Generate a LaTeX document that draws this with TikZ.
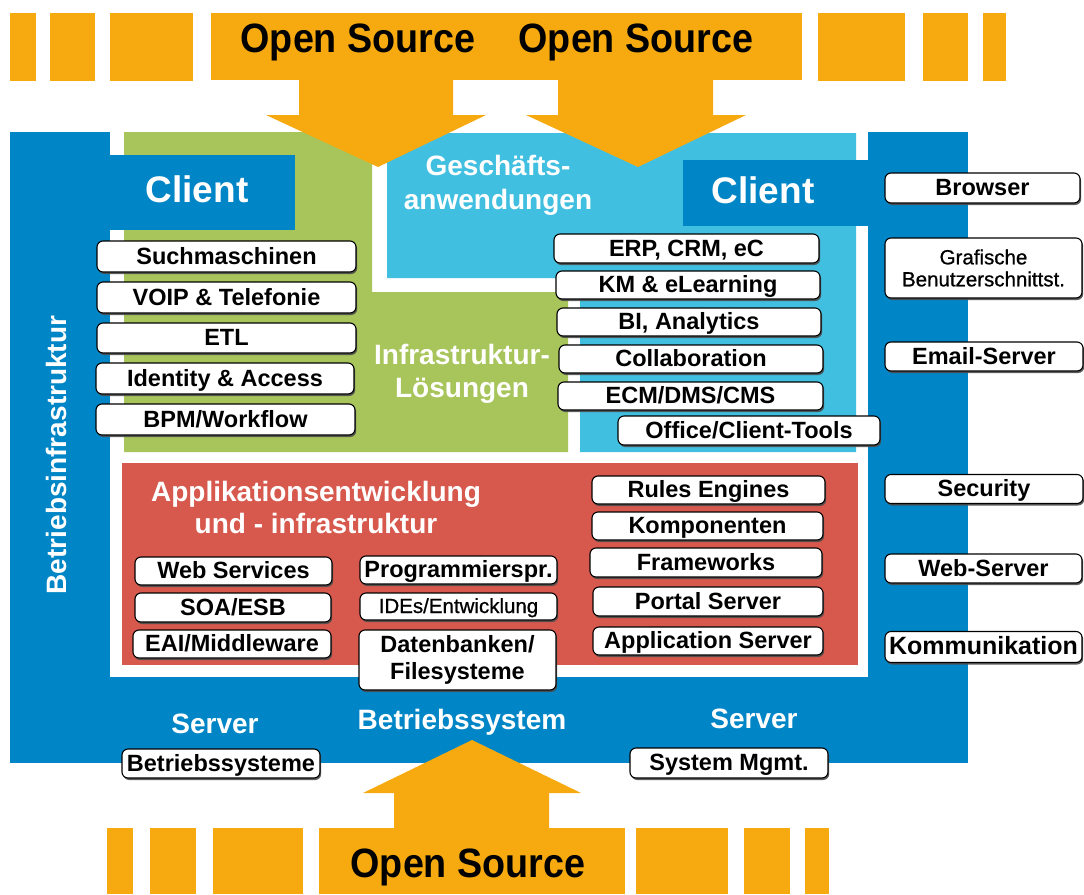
\documentclass[tikz,border=0pt]{standalone}
\usepackage{fontspec}
\setmainfont{Liberation Sans}
\newfontfamily\osfont[FakeStretch=0.92]{Liberation Sans}
\newfontfamily\medfont[FakeBold=0.8]{Liberation Sans}
\usetikzlibrary{shadows}
\definecolor{osorange}{RGB}{247,170,16}
\definecolor{osblue}{RGB}{0,134,198}
\definecolor{osgreen}{RGB}{167,197,90}
\definecolor{oscyan}{RGB}{65,191,224}
\definecolor{osred}{RGB}{215,88,76}
\tikzset{
  item/.style={draw=black, line width=1.1pt, fill=white, rounded corners=6pt,
    font=\fontsize{23.5}{26}\selectfont\bfseries, inner sep=0pt,
    text height=17pt, text depth=2pt,
    drop shadow={shadow xshift=1.2pt, shadow yshift=-2pt, fill=black!70, opacity=0.9}},
  itemtwo/.style={item, text height=, text depth=, align=center},
  sect/.style={text=white, font=\fontsize{28}{33}\selectfont\bfseries, align=center},
  clientlbl/.style={text=white, font=\fontsize{37}{40}\selectfont\bfseries, anchor=base},
  oslbl/.style={text=black, font=\osfont\fontsize{41}{44}\selectfont\bfseries, anchor=base},
  band/.style={fill=osorange, draw=none}
}
\begin{document}
\begin{tikzpicture}[x=1pt,y=-1pt]
\useasboundingbox[fill=white] (0,0) rectangle (1084,894);

% top band
\fill[band] (10,13) rectangle (36,81);
\fill[band] (50,13) rectangle (95,81);
\fill[band] (110,13) rectangle (193,81);
\fill[band] (818,13) rectangle (905,81);
\fill[band] (923,13) rectangle (968,81);
\fill[band] (983,13) rectangle (1006,81);

% outer blue and inner areas
\fill[osblue] (10,132) rectangle (968,763);
\fill[white] (110,132) rectangle (868,677);
\fill[osgreen] (124,132) -- (372,132) -- (372,292) -- (568,292) -- (568,452) -- (124,452) -- cycle;
\fill[oscyan] (387,133) -- (856,133) -- (856,452) -- (580,452) -- (580,278) -- (387,278) -- cycle;
\fill[osred] (122,463) rectangle (858,665);
\fill[osblue] (110,155) rectangle (295,230);
\fill[osblue] (683,160) rectangle (868,226);

% top main band with arrows
\fill[band] (211,13) rectangle (802,80);
\fill[band] (299,79) -- (299,115) -- (266,115) -- (378,167) -- (486,115) -- (453,115) -- (453,79) -- cycle;
\fill[band] (558,79) -- (558,115) -- (526,115) -- (638,167) -- (746,115) -- (713,115) -- (713,79) -- cycle;

% bottom band with arrow
\fill[band] (107,828) rectangle (133,894);
\fill[band] (150,828) rectangle (196,894);
\fill[band] (213,828) rectangle (303,894);
\fill[band] (319,828) rectangle (625,894);
\fill[band] (636,828) rectangle (728,894);
\fill[band] (744,828) rectangle (790,894);
\fill[band] (805,828) rectangle (829,894);
\fill[band] (394,829) -- (394,793) -- (363,793) -- (472,740) -- (581,793) -- (549,793) -- (549,829) -- cycle;

% Open Source labels
\node[oslbl] (os1) at (358,52) {Open Source};
\node[oslbl] (os2) at (636,52) {Open Source};
\node[oslbl] (os3) at (468,877) {Open Source};

% section labels
\node[clientlbl] (cl1) at (197,202) {Client};
\node[clientlbl] (cl2) at (763,203) {Client};
\node[sect, anchor=base] (ga1) at (498,175) {Geschäfts-};
\node[sect, anchor=base] (ga2) at (498,209) {anwendungen};
\node[sect, anchor=base] (il1) at (462,364) {Infrastruktur-};
\node[sect, anchor=base] (il2) at (462,397) {Lösungen};
\node[sect, anchor=base] (ap1) at (316,501) {Applikationsentwicklung};
\node[sect, anchor=base] (ap2) at (316,533) {und - infrastruktur};
\node[sect, anchor=base, rotate=90] (bi) at (66,455) {Betriebsinfrastruktur};
\node[sect, anchor=base] (sv1) at (215,733) {Server};
\node[sect, anchor=base] (bs) at (462,729) {Betriebssystem};
\node[sect, anchor=base] (sv2) at (754,728) {Server};

% left column items
\node[item, minimum width=259pt, minimum height=31pt] (such) at (226.5,256.5) {Suchmaschinen};
\node[item, minimum width=259pt, minimum height=31pt] (voip) at (226.5,297.5) {VOIP \& Telefonie};
\node[item, minimum width=259pt, minimum height=30pt] (etl) at (226.5,338) {ETL};
\node[item, minimum width=258pt, minimum height=31pt] (ida) at (225,378.5) {Identity \& Access};
\node[item, minimum width=259pt, minimum height=31pt] (bpm) at (225.5,419.5) {BPM/Workflow};

% cyan column items
\node[item, minimum width=265pt, minimum height=29pt] (erp) at (686.5,248.5) {ERP, CRM, eC};
\node[item, minimum width=264pt, minimum height=28pt] (km) at (688,285) {KM \& eLearning};
\node[item, minimum width=264pt, minimum height=28pt] (bia) at (689,322) {BI, Analytics};
\node[item, minimum width=264pt, minimum height=28pt] (col) at (691,359) {Collaboration};
\node[item, minimum width=265pt, minimum height=28pt] (ecm) at (690.5,396) {ECM/DMS/CMS};
\node[item, minimum width=262pt, minimum height=29pt] (off) at (749,430.5) {Office/Client-Tools};

% right side items
\node[item, minimum width=195pt, minimum height=30pt] (brw) at (982.5,188) {Browser};
\node[itemtwo, minimum width=197pt, minimum height=60pt, font=\medfont\fontsize{20.5}{22}\selectfont] (gui) at (983.5,268) {Grafische\\Benutzerschnittst.};
\node[item, minimum width=198pt, minimum height=29pt] (mail) at (984,356.5) {Email-Server};
\node[item, minimum width=198pt, minimum height=29pt] (sec) at (984,489) {Security};
\node[item, minimum width=197pt, minimum height=29pt] (web) at (983.5,568.5) {Web-Server};
\node[item, minimum width=197pt, minimum height=31pt, font=\fontsize{25}{27}\selectfont\bfseries] (kom) at (983.5,647) {Kommunikation};

% red area items
\node[item, minimum width=197pt, minimum height=28pt] (ws) at (233.5,571) {Web Services};
\node[item, minimum width=196pt, minimum height=29pt] (soa) at (233,607.5) {SOA/ESB};
\node[item, minimum width=198pt, minimum height=28pt] (eai) at (232,644) {EAI/Middleware};
\node[item, minimum width=197pt, minimum height=28pt] (prg) at (458.5,570) {Programmierspr.};
\node[item, minimum width=197pt, minimum height=27pt, font=\medfont\fontsize{20.5}{22}\selectfont, text height=15pt] (ide) at (458.5,606.5) {IDEs/Entwicklung};
\node[itemtwo, minimum width=197pt, minimum height=60pt, font=\fontsize{23.5}{27}\selectfont\bfseries] (db) at (457.5,660) {Datenbanken/\\Filesysteme};
\node[item, minimum width=233pt, minimum height=28pt] (rul) at (708.5,490) {Rules Engines};
\node[item, minimum width=231pt, minimum height=28pt] (kmp) at (707.5,526) {Komponenten};
\node[item, minimum width=232pt, minimum height=29pt] (frm) at (706,562.5) {Frameworks};
\node[item, minimum width=230pt, minimum height=29pt] (prt) at (708,601.5) {Portal Server};
\node[item, minimum width=230pt, minimum height=28pt] (aps) at (708,641) {Application Server};

% bottom items
\node[item, minimum width=198pt, minimum height=30pt] (smg) at (729,763) {System Mgmt.};
\node[item, minimum width=198pt, minimum height=29pt] (bsy) at (221,763.5) {Betriebssysteme};
\end{tikzpicture}
\end{document}
